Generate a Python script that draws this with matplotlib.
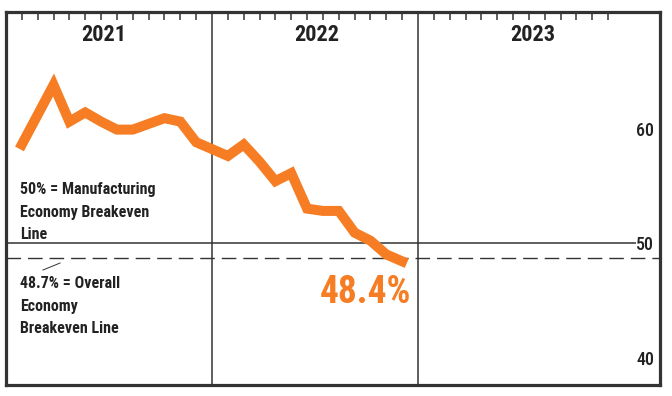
import numpy as np
import matplotlib.pyplot as plt

plt.rcParams['font.family'] = ['Roboto Condensed', 'Archivo Narrow', 'Asap Condensed', 'DejaVu Sans']
plt.rcParams['lines.scale_dashes'] = False

# monthly PMI, Jan 2021 .. Dec 2022 (month 13 is the year divider)
months = [1, 2, 3, 4, 5, 6, 7, 8, 9, 10, 11, 12,
          14, 15, 16, 17, 18, 19, 20, 21, 22, 23, 24, 25]
pmi = [58.6, 61.2, 63.8, 60.6, 61.4, 60.6, 59.9, 59.9, 60.4, 60.9, 60.6, 58.8,
       57.6, 58.6, 57.1, 55.4, 56.1, 53.0, 52.8, 52.8, 50.9, 50.2, 49.0, 48.4]
years = ['2021', '2022', '2023']
year_pos = [6.18, 19.6, 33.26]
dividers = [13, 26]
right_labels = [60, 50, 40]
manuf_line = 50
overall_line = 48.7

orange = '#F67D23'
dark = '#333333'

fig = plt.figure(figsize=(6.72, 3.96), dpi=100)
ax = fig.add_axes([6 / 672, 11 / 396, 654 / 672, 373 / 396])
ax.set_xlim(0, 41.27)
ax.set_ylim(37.6, 70.17)

for s in ax.spines.values():
    s.set_linewidth(2.3)
    s.set_color(dark)

ticks = [m for m in range(1, 39) if m not in dividers]
ax.set_xticks(ticks)
ax.set_yticks([])
ax.tick_params(axis='x', top=True, bottom=False, direction='in', length=6,
               width=1.1, color=dark, labeltop=False, labelbottom=False)

for d in dividers:
    ax.axvline(d, color=dark, lw=1.1)

ax.hlines(manuf_line, 0, 39.75, color=dark, lw=1.1)
ax.axhline(overall_line, color=dark, lw=1.0, dashes=(10.5, 5))

ax.plot(months, pmi, color=orange, lw=7.2, solid_joinstyle='miter', zorder=5)

for y, lab in zip(year_pos, years):
    ax.text(y, 68.17, lab, ha='center', va='center', fontsize=16,
            fontweight='bold', color='#222222')

for v in right_labels:
    ax.text(40.33, v - 0.2, str(v), ha='center', va='center', fontsize=13,
            fontweight='medium', color='#222222')

ax.text(0.88, 55.3, '50% = Manufacturing\nEconomy Breakeven\nLine',
        ha='left', va='top', fontsize=11.5, fontweight='bold', color='#222222',
        linespacing=1.62)
ax.text(0.88, 47.1, '48.7% = Overall\nEconomy\nBreakeven Line',
        ha='left', va='top', fontsize=11.5, fontweight='bold', color='#222222',
        linespacing=1.62)
ax.plot([2.33, 3.41], [47.64, 48.25], color=dark, lw=0.7)

ax.text(25.56, 45.7, '48.4%', ha='right', va='center', fontsize=27,
        fontweight='bold', color=orange)

fig.savefig('out.png', dpi=100)
